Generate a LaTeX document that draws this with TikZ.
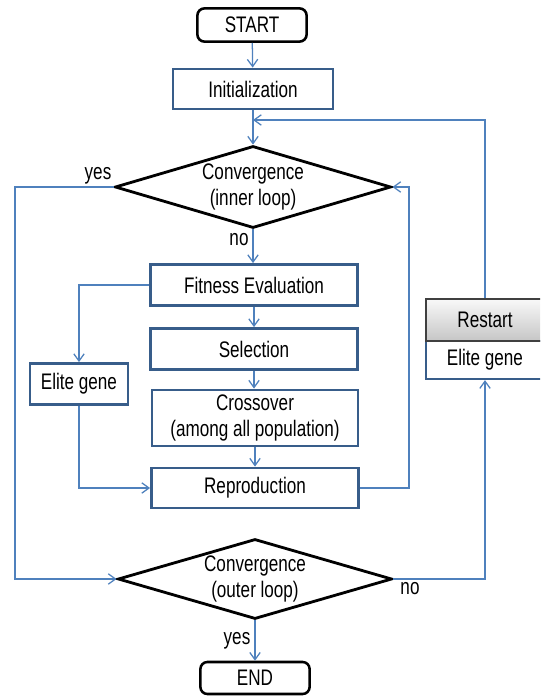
\documentclass[tikz,border=0pt]{standalone}
\usepackage{fontspec}
\setmainfont[FakeStretch=0.76]{Liberation Sans}
\usetikzlibrary{shapes.geometric,arrows.meta}
\definecolor{lnblue}{HTML}{4F81BD}
\definecolor{bxblue}{HTML}{385D8A}
\tikzset{
  box/.style={draw=bxblue, line width=2pt, inner sep=0pt, align=center},
  term/.style={draw=black, line width=1.8pt, rounded corners=5pt, minimum width=2.73cm, minimum height=0.83cm},
  dia/.style={diamond, draw=black, line width=2pt, shape aspect=3.3, inner sep=0pt, align=center, minimum width=6.9cm, minimum height=2.05cm},
  link/.style={draw=lnblue, line width=0.9pt}
}

\begin{document}
\begin{tikzpicture}[x=0.025cm, y=-0.025cm, font=\fontsize{16}{18.5}\selectfont, >={Straight Barb[length=1.8mm,width=2.6mm]}]
            \useasboundingbox (0,0) rectangle (540,696);
            \clip (0,0) rectangle (540,696);
            \node (ST) at (252,25) [term] {START};
            \node (IN) at (253,89) [box, minimum width=4cm, minimum height=1cm] {Initialization};
            \node (C1) at (253,187) [dia] {Convergence\\(inner loop)};
            \node (FE) at (254,285) [box, minimum width=5.175cm, minimum height=1.025cm] {Fitness Evaluation};
            \node (SE) at (254,349) [box, minimum width=5.175cm, minimum height=1.025cm] {Selection};
            \node (CR) at (255,418) [box, minimum width=5.15cm, minimum height=1.4cm] {Crossover\\(among all population)};
            \node (RE) at (255,488) [box, minimum width=5.175cm, minimum height=1cm] {Reproduction};
            \node (EG) at (79,384) [box, minimum width=2.45cm, minimum height=1.025cm] {Elite gene};
            \node (C2) at (255,579) [dia, minimum width=6.85cm, minimum height=2cm] {Convergence\\(outer loop)};
            \node (EN) at (255,678) [term, minimum height=0.8cm] {END};
            \node (EG2) at (485,360) [box, line width=1.6pt, minimum width=2.95cm, minimum height=0.95cm] {Elite gene};
            \node (RS) at (485,320) [draw=black!75, line width=1.2pt, top color=gray!5, bottom color=gray!45, minimum width=2.95cm, minimum height=1.05cm] {Restart};
            \coordinate (J) at (253,120);
            \coordinate (L) at (15,187);
            \coordinate (K) at (409,187);
            \draw [->, link] (ST) -- (IN);
            \draw [->, link] (IN) -- (C1);
            \draw [->, link] (RS.north) |- (J);
            \draw [->, link] (C1.south) -- (C1.south |- FE.north);
            \draw [->, link] (FE) -- (SE);
            \draw [->, link] (SE) -- (SE.south |- CR.north);
            \draw [->, link] (CR) -- (RE);
            \draw [->, link] (FE.west) -| (EG.north);
            \draw [->, link] (EG.south) |- (RE.west);
            \draw [->, link] (RE.east) -| (K) -- (C1.east);
            \draw [->, link] (C1.west) -- (L) |- (C2.west);
            \draw [->, link] (C2.east) -| (EG2.south);
            \draw [->, link] (C2) -- (EN);
            \node (Y1) at (98,176) {yes};
            \node (N1) at (239,240) {no};
            \node (N2) at (410,589) {no};
            \node (Y2) at (237,641) {yes};
        \end{tikzpicture}
\end{document}
